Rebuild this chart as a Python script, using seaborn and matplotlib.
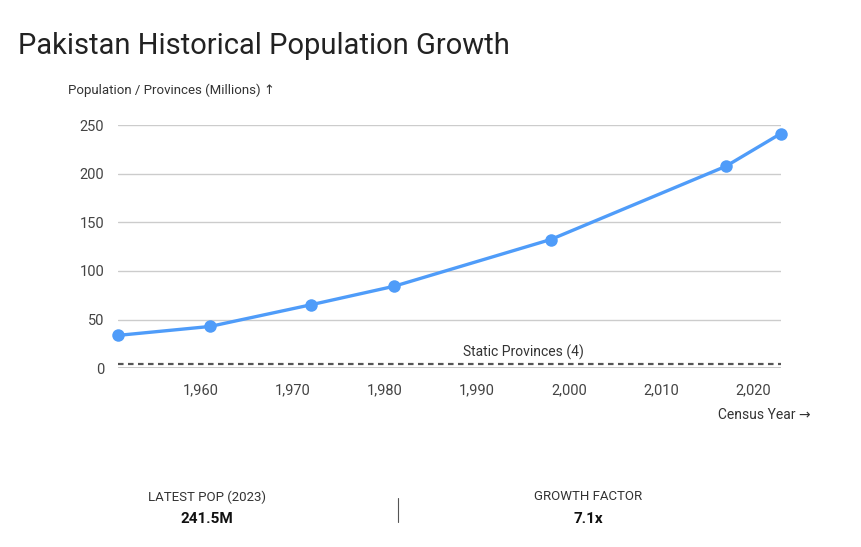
import pandas as pd
import matplotlib.pyplot as plt
import matplotlib.ticker as mticker
import seaborn as sns

# Census data (population in millions)
years = [1951, 1961, 1972, 1981, 1998, 2017, 2023]
population = [33.7, 42.9, 65.3, 84.3, 132.4, 207.7, 241.5]
provinces = [4, 4, 4, 4, 4, 4, 4]

y_ticks = [0, 50, 100, 150, 200, 250]
x_ticks = [1960, 1970, 1980, 1990, 2000, 2010, 2020]

df = pd.DataFrame({'year': years, 'population': population, 'provinces': provinces})

sns.set_style('white')
plt.rcParams['font.family'] = ['Roboto', 'DejaVu Sans']

fig = plt.figure(figsize=(8.61, 5.47), dpi=100)
ax = fig.add_axes([0.137, 0.327, 0.77, 0.444])

# Population line
sns.lineplot(data=df, x='year', y='population', ax=ax, color='#4F9CF9',
             linewidth=2.4, marker='o', markersize=9, markeredgewidth=0,
             clip_on=False, zorder=4)

# Static provinces line
sns.lineplot(data=df, x='year', y='provinces', ax=ax, color='#555555',
             linewidth=1.6, linestyle=(0, (2.5, 2)), zorder=3)
ax.text(1995, 4 + 4, 'Static Provinces (4)', ha='center', va='bottom',
        fontsize=10, color='#333333')

ax.set_xlim(1951, 2023)
ax.set_ylim(0, 250)
ax.set_yticks(y_ticks)
ax.set_xticks(x_ticks)
ax.xaxis.set_major_formatter(mticker.FuncFormatter(lambda v, p: f'{v:,.0f}'))

ax.grid(axis='y', color='#cccccc', linewidth=1)
ax.axhline(0, color='#c4c4c4', linewidth=2, zorder=2)
for s in ax.spines.values():
    s.set_visible(False)
ax.tick_params(axis='both', length=0, labelsize=10.5, labelcolor='#444444')
ax.tick_params(axis='x', pad=11)
ax.tick_params(axis='y', pad=10)
ax.set_xlabel('')
ax.set_ylabel('')

# Titles and axis labels
fig.text(18 / 861, 1 - 46 / 547, 'Pakistan Historical Population Growth',
         fontsize=21, color='#222222', va='center', ha='left')
fig.text(68 / 861, 1 - 90 / 547, 'Population / Provinces (Millions) \u2191',
         fontsize=9.5, color='#333333', va='center', ha='left')
fig.text(811 / 861, 1 - 415 / 547, 'Census Year \u2192',
         fontsize=10, color='#333333', va='center', ha='right')

# Summary stats
fig.text(207 / 861, 1 - 497 / 547, 'LATEST POP (2023)', fontsize=9.5,
         color='#333333', ha='center', va='center')
fig.text(207 / 861, 1 - 519 / 547, '241.5M', fontsize=11, fontweight='bold',
         color='#111111', ha='center', va='center')
fig.text(588 / 861, 1 - 497 / 547, 'GROWTH FACTOR', fontsize=9.5,
         color='#333333', ha='center', va='center')
fig.text(588 / 861, 1 - 519 / 547, '7.1x', fontsize=11, fontweight='bold',
         color='#111111', ha='center', va='center')
fig.add_artist(plt.Line2D([398 / 861, 398 / 861], [1 - 498 / 547, 1 - 522 / 547],
                          color='#555555', linewidth=0.8))

fig.savefig('out.png', dpi=100)
